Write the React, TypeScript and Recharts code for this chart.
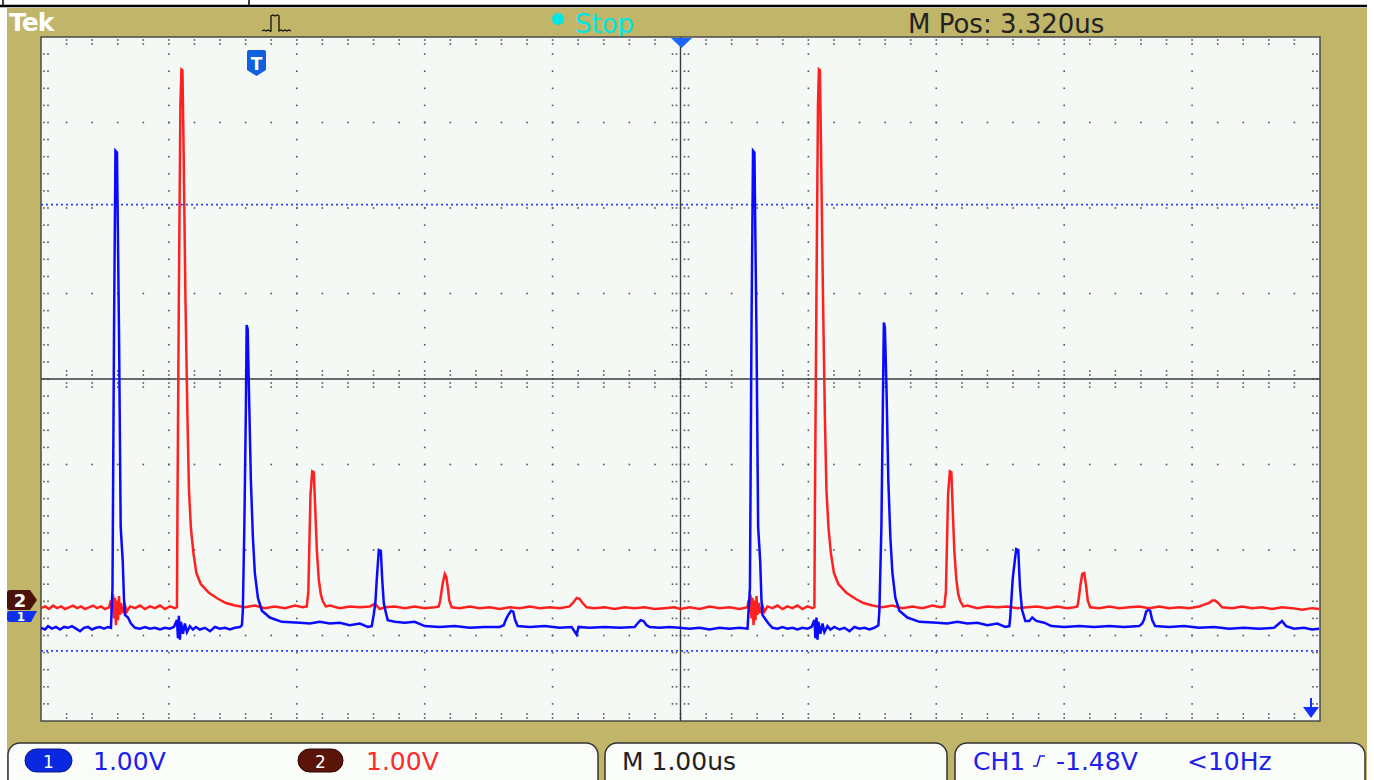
import React from "react";
import { LineChart, Line, XAxis, YAxis, ReferenceLine } from "recharts";

// time in us from the trigger point, volts from each channel's ground marker (1.00V/div)
const ch1Points: number[][] = [
  [-1.68, -0.14], [-1.648, -0.16], [-1.625, -0.12], [-1.594, -0.15], [-1.563, -0.13], [-1.531, -0.16],
  [-1.5, -0.13], [-1.469, -0.14], [-1.438, -0.12], [-1.406, -0.15], [-1.375, -0.18], [-1.344, -0.14],
  [-1.313, -0.13], [-1.281, -0.16], [-1.25, -0.14], [-1.219, -0.13], [-1.188, -0.15], [-1.156, -0.13],
  [-1.133, -0.14], [-1.121, 0.33], [-1.109, 3.35], [-1.098, 5.44], [-1.086, 5.42], [-1.07, 3.31],
  [-1.057, 1.04], [-1.041, 0.64], [-1.031, 0.19], [-1.023, 0.01], [-1.0, -0.02], [-0.977, -0.09],
  [-0.945, -0.14], [-0.906, -0.15], [-0.867, -0.13], [-0.828, -0.15], [-0.789, -0.14], [-0.75, -0.16],
  [-0.711, -0.14], [-0.672, -0.15], [-0.641, -0.13], [-0.617, -0.05], [-0.609, -0.26], [-0.602, 0],
  [-0.594, -0.28], [-0.586, -0.07], [-0.57, -0.21], [-0.555, -0.09], [-0.539, -0.19], [-0.516, -0.12],
  [-0.492, -0.16], [-0.469, -0.13], [-0.438, -0.16], [-0.398, -0.14], [-0.359, -0.18], [-0.32, -0.13],
  [-0.281, -0.15], [-0.242, -0.14], [-0.203, -0.16], [-0.164, -0.14], [-0.125, -0.13], [-0.109, -0.11],
  [-0.102, 0.06], [-0.09, 1.06], [-0.078, 2.44], [-0.072, 3.4], [-0.064, 3.35], [-0.055, 2.7],
  [-0.039, 1.58], [-0.023, 0.91], [-0.008, 0.5], [0.016, 0.21], [0.047, 0.06], [0.109, -0.02],
  [0.203, -0.07], [0.344, -0.08], [0.422, -0.09], [0.5, -0.07], [0.578, -0.09], [0.656, -0.08],
  [0.734, -0.11], [0.813, -0.09], [0.875, -0.13], [0.906, -0.12], [0.922, 0.02], [0.934, 0.15],
  [0.945, 0.42], [0.961, 0.77], [0.977, 0.76], [0.988, 0.42], [1.0, 0.15], [1.016, 0.04],
  [1.031, -0.05], [1.086, -0.07], [1.164, -0.08], [1.242, -0.07], [1.32, -0.12], [1.438, -0.13],
  [1.555, -0.12], [1.672, -0.14], [1.789, -0.13], [1.906, -0.13], [1.938, -0.11], [1.953, -0.05],
  [1.973, 0.01], [1.996, 0.06], [2.012, 0.05], [2.027, -0.05], [2.047, -0.12], [2.141, -0.13],
  [2.258, -0.12], [2.375, -0.14], [2.469, -0.13], [2.508, -0.22], [2.523, -0.13], [2.609, -0.14],
  [2.727, -0.13], [2.844, -0.14], [2.961, -0.13], [2.984, -0.09], [3.008, -0.05], [3.031, -0.06],
  [3.055, -0.11], [3.078, -0.13], [3.156, -0.14], [3.234, -0.13], [3.313, -0.14], [3.391, -0.15],
  [3.469, -0.14], [3.547, -0.16], [3.625, -0.14], [3.703, -0.15], [3.781, -0.14], [3.844, -0.15],
  [3.863, 0.33], [3.875, 3.35], [3.887, 5.44], [3.898, 5.42], [3.914, 3.31], [3.927, 1.04],
  [3.943, 0.64], [3.953, 0.19], [3.961, 0.01], [3.984, -0.04], [4.008, -0.09], [4.039, -0.14],
  [4.078, -0.15], [4.117, -0.13], [4.156, -0.15], [4.195, -0.14], [4.234, -0.16], [4.273, -0.14],
  [4.313, -0.15], [4.344, -0.13], [4.367, -0.05], [4.375, -0.26], [4.383, -0.02], [4.391, -0.28],
  [4.398, -0.07], [4.414, -0.21], [4.43, -0.09], [4.445, -0.19], [4.469, -0.12], [4.492, -0.16],
  [4.523, -0.13], [4.563, -0.16], [4.602, -0.14], [4.641, -0.18], [4.68, -0.13], [4.719, -0.15],
  [4.758, -0.14], [4.797, -0.16], [4.836, -0.14], [4.867, -0.11], [4.875, 0.06], [4.891, 1.06],
  [4.902, 2.44], [4.91, 3.43], [4.918, 3.37], [4.93, 2.7], [4.945, 1.58], [4.961, 0.91],
  [4.977, 0.5], [5.0, 0.21], [5.031, 0.06], [5.094, -0.02], [5.188, -0.07], [5.328, -0.08],
  [5.406, -0.09], [5.484, -0.07], [5.563, -0.09], [5.641, -0.08], [5.719, -0.11], [5.797, -0.09],
  [5.859, -0.13], [5.891, -0.12], [5.898, -0.02], [5.918, 0.44], [5.934, 0.65], [5.945, 0.78],
  [5.961, 0.77], [5.974, 0.34], [5.99, 0.07], [6.016, -0.06], [6.047, -0.06], [6.07, -0.02],
  [6.102, -0.06], [6.164, -0.08], [6.219, -0.12], [6.32, -0.13], [6.438, -0.12], [6.555, -0.13],
  [6.672, -0.12], [6.789, -0.13], [6.906, -0.12], [6.93, -0.09], [6.945, -0.04], [6.961, 0.05],
  [6.977, 0.07], [6.992, 0.06], [7.008, -0.05], [7.031, -0.12], [7.141, -0.13], [7.258, -0.12],
  [7.375, -0.14], [7.492, -0.13], [7.609, -0.15], [7.727, -0.14], [7.844, -0.15], [7.961, -0.14],
  [8.0, -0.09], [8.023, -0.06], [8.055, -0.12], [8.117, -0.15], [8.195, -0.14], [8.258, -0.16],
  [8.313, -0.15],
];

const ch2Points: number[][] = [
  [-1.68, -0.07], [-1.648, -0.05], [-1.617, -0.08], [-1.586, -0.04], [-1.555, -0.07], [-1.523, -0.05],
  [-1.492, -0.08], [-1.461, -0.06], [-1.43, -0.04], [-1.398, -0.07], [-1.367, -0.05], [-1.336, -0.08],
  [-1.305, -0.06], [-1.273, -0.04], [-1.242, -0.07], [-1.211, -0.05], [-1.18, -0.08], [-1.148, -0.06],
  [-1.133, 0.02], [-1.125, -0.12], [-1.117, 0.09], [-1.109, -0.19], [-1.102, 0.05], [-1.094, -0.27],
  [-1.086, 0.02], [-1.078, -0.21], [-1.07, 0.07], [-1.063, -0.15], [-1.055, -0.01], [-1.039, -0.13],
  [-1.023, -0.04], [-1.008, -0.11], [-0.984, -0.05], [-0.945, -0.07], [-0.906, -0.04], [-0.867, -0.08],
  [-0.828, -0.05], [-0.789, -0.07], [-0.75, -0.04], [-0.711, -0.08], [-0.672, -0.05], [-0.633, -0.07],
  [-0.617, -0.06], [-0.613, 1.13], [-0.602, 3.63], [-0.59, 5.81], [-0.582, 6.23], [-0.574, 6.22],
  [-0.566, 5.39], [-0.551, 3.58], [-0.535, 2.16], [-0.523, 1.31], [-0.508, 0.87], [-0.488, 0.57],
  [-0.465, 0.34], [-0.43, 0.21], [-0.367, 0.11], [-0.297, 0.04], [-0.234, -0.01], [-0.164, -0.04],
  [-0.086, -0.06], [-0.008, -0.04], [0.07, -0.07], [0.148, -0.05], [0.227, -0.07], [0.305, -0.04],
  [0.367, -0.06], [0.398, -0.05], [0.41, 0.12], [0.427, 1.26], [0.441, 1.53], [0.453, 1.52],
  [0.465, 1.06], [0.477, 0.6], [0.492, 0.26], [0.508, 0.09], [0.523, 0.01], [0.547, -0.05],
  [0.578, -0.04], [0.656, -0.07], [0.734, -0.05], [0.813, -0.06], [0.891, -0.05], [0.93, -0.02],
  [0.969, -0.08], [1.008, -0.06], [1.086, -0.05], [1.164, -0.07], [1.242, -0.05], [1.32, -0.07],
  [1.398, -0.06], [1.43, -0.05], [1.441, 0.02], [1.461, 0.22], [1.477, 0.33], [1.488, 0.3],
  [1.5, 0.18], [1.512, 0.02], [1.531, -0.06], [1.594, -0.07], [1.672, -0.05], [1.75, -0.07],
  [1.828, -0.06], [1.906, -0.08], [1.984, -0.06], [2.063, -0.07], [2.141, -0.05], [2.219, -0.07],
  [2.297, -0.06], [2.375, -0.07], [2.453, -0.05], [2.484, 0], [2.508, 0.05], [2.531, 0.04],
  [2.555, -0.01], [2.586, -0.06], [2.648, -0.07], [2.727, -0.06], [2.805, -0.08], [2.883, -0.06],
  [2.961, -0.07], [3.039, -0.06], [3.117, -0.08], [3.195, -0.07], [3.273, -0.06], [3.32, -0.08],
  [3.391, -0.06], [3.469, -0.08], [3.547, -0.05], [3.625, -0.07], [3.703, -0.06], [3.781, -0.08],
  [3.844, -0.06], [3.852, 0.02], [3.859, -0.12], [3.867, 0.09], [3.875, -0.19], [3.883, 0.05],
  [3.891, -0.27], [3.898, 0.02], [3.906, -0.21], [3.914, 0.07], [3.922, -0.15], [3.93, -0.01],
  [3.945, -0.13], [3.961, -0.04], [3.977, -0.11], [4.0, -0.05], [4.039, -0.07], [4.078, -0.04],
  [4.117, -0.08], [4.156, -0.05], [4.195, -0.07], [4.234, -0.04], [4.273, -0.08], [4.313, -0.05],
  [4.352, -0.07], [4.367, -0.06], [4.371, 1.13], [4.383, 3.63], [4.395, 5.81], [4.402, 6.23],
  [4.41, 6.22], [4.418, 5.39], [4.434, 3.58], [4.449, 2.16], [4.461, 1.31], [4.477, 0.87],
  [4.496, 0.57], [4.52, 0.34], [4.555, 0.21], [4.617, 0.11], [4.688, 0.04], [4.75, -0.01],
  [4.82, -0.04], [4.898, -0.06], [4.977, -0.04], [5.055, -0.07], [5.133, -0.05], [5.211, -0.07],
  [5.289, -0.04], [5.352, -0.06], [5.383, -0.05], [5.395, 0.12], [5.412, 1.26], [5.426, 1.53],
  [5.438, 1.52], [5.449, 1.06], [5.461, 0.6], [5.477, 0.26], [5.492, 0.09], [5.508, 0.01],
  [5.531, -0.05], [5.563, -0.04], [5.641, -0.07], [5.719, -0.05], [5.797, -0.06], [5.875, -0.05],
  [5.953, -0.07], [6.031, -0.06], [6.109, -0.05], [6.188, -0.07], [6.266, -0.05], [6.344, -0.07],
  [6.398, -0.06], [6.422, -0.05], [6.43, 0], [6.445, 0.18], [6.461, 0.33], [6.477, 0.34],
  [6.492, 0.18], [6.504, 0.02], [6.523, -0.06], [6.594, -0.07], [6.672, -0.05], [6.75, -0.07],
  [6.828, -0.06], [6.906, -0.05], [6.984, -0.07], [7.063, -0.05], [7.141, -0.07], [7.219, -0.06],
  [7.297, -0.07], [7.375, -0.05], [7.43, -0.02], [7.453, -0.01], [7.477, 0.02], [7.5, 0.02],
  [7.523, -0.01], [7.555, -0.06], [7.633, -0.07], [7.711, -0.05], [7.789, -0.07], [7.867, -0.06],
  [7.945, -0.08], [8.023, -0.06], [8.102, -0.07], [8.18, -0.09], [8.258, -0.07], [8.313, -0.08],
];

const cursorLevels = [4.81, -0.41]; // CH1 volts
const timeRange = [-1.68, 8.32];
const ch1Range = [-1.23, 6.77];
const ch2Range = [-1.39, 6.61];

const ch1Data = ch1Points.map(([t, v]) => ({ t, v }));
const ch2Data = ch2Points.map(([t, v]) => ({ t, v }));

const OLIVE = "#c1b569";
const FONT = "DejaVu Sans, Verdana, sans-serif";
const GX = 41;
const GY = 37;
const GW = 1279;
const GH = 684;

function Graticule() {
  const dots: React.ReactNode[] = [];
  const mx = GW / 50;
  const my = GH / 40;
  const cx = GX + GW / 2;
  const cy = GY + GH / 2;
  const add = (x: number, y: number) =>
    dots.push(<rect key={dots.length} x={x - 0.8} y={y - 0.8} width={1.6} height={1.6} />);
  for (let i = 1; i < 10; i++) {
    if (i === 5) continue;
    for (let k = 1; k < 40; k++) add(GX + (i * GW) / 10, GY + k * my);
  }
  for (let j = 1; j < 8; j++) {
    if (j === 4) continue;
    for (let k = 1; k < 50; k++) add(GX + k * mx, GY + (j * GH) / 8);
  }
  for (let k = 1; k < 50; k++) {
    const x = GX + k * mx;
    add(x, GY + 3);
    add(x, GY + 7);
    add(x, GY + GH - 3);
    add(x, GY + GH - 7);
    add(x, cy - 8);
    add(x, cy - 4);
    add(x, cy + 4);
    add(x, cy + 8);
  }
  for (let k = 1; k < 40; k++) {
    const y = GY + k * my;
    add(GX + 3, y);
    add(GX + 7, y);
    add(GX + GW - 3, y);
    add(GX + GW - 7, y);
    add(cx - 8, y);
    add(cx - 4, y);
    add(cx + 4, y);
    add(cx + 8, y);
  }
  return (
    <g>
      <rect x={GX} y={GY} width={GW} height={GH} fill="#f5f9f5" stroke="#4a4a4a" strokeWidth={1.5} />
      <g fill="#555">{dots}</g>
      <line x1={cx} y1={GY} x2={cx} y2={GY + GH} stroke="#3a3a3a" strokeWidth={1.4} />
      <line x1={GX} y1={cy} x2={GX + GW} y2={cy} stroke="#3a3a3a" strokeWidth={1.4} />
    </g>
  );
}

export default function App() {
  return (
    <div style={{ position: "fixed", left: 0, top: 0, width: 1374, height: 780, background: "#fff", overflow: "hidden" }}>
      <svg width={1374} height={780} style={{ position: "absolute", left: 0, top: 0 }} fontFamily={FONT}>
        <rect x={7} y={8} width={1360} height={780} fill={OLIVE} />
        <line x1={0} y1={6} x2={1367} y2={6} stroke="#000" strokeWidth={2.5} />
        <line x1={3} y1={0} x2={3} y2={6} stroke="#000" strokeWidth={1.5} />
        <line x1={249} y1={0} x2={249} y2={6} stroke="#000" strokeWidth={1.5} />

        <text x={9} y={31} fill="#fff" fontSize={25} fontWeight="bold" letterSpacing={-1}>Tek</text>
        <path
          d="M262,31 l2,-1 l2,1 l2,-1 l2,1 l1,0 l0,-15 l2,-1 l2,1 l2,-1 l2,1 l0,15 l2,-1 l2,1 l2,-1 l2,1 l2,-1 l2,1"
          fill="none"
          stroke="#111"
          strokeWidth={1.3}
        />
        <circle cx={558} cy={19} r={6} fill="#00e6e6" />
        <text x={575} y={33} fill="#00e6e6" fontSize={26}>Stop</text>
        <text x={908} y={33} fill="#222" fontSize={26}>M Pos: 3.320us</text>

        <Graticule />

        <polygon points="671,38 692,38 681.5,48" fill="#1a66ff" />
        <path d="M247,52 Q247,50 249,50 L264,50 Q266,50 266,52 L266,70 L256.5,76 L247,70 Z" fill="#1060e0" />
        <text x={256.5} y={70} fill="#fff" fontSize={17} fontWeight="bold" textAnchor="middle">T</text>
        <line x1={1311} y1={698} x2={1311} y2={709} stroke="#1030ff" strokeWidth={2} />
        <polygon points="1303,707 1319,707 1311,718" fill="#1030ff" />

        <path d="M10,611 L37,611 L31,622 L10,622 Q7,622 7,619 L7,614 Q7,611 10,611 Z" fill="#1030f0" />
        <text x={21} y={621} fill="#fff" fontSize={12} fontWeight="bold" textAnchor="middle">1</text>
        <path d="M10,590 L30,590 L37,600 L30,610 L10,610 Q7,610 7,607 L7,593 Q7,590 10,590 Z" fill="#4a1208" />
        <text x={20} y={607} fill="#fff" fontSize={18} fontWeight="bold" textAnchor="middle">2</text>

        <rect x={8} y={743} width={590} height={60} rx={12} fill="#fafcfa" stroke="#333" strokeWidth={1.5} />
        <rect x={605} y={743} width={342} height={60} rx={12} fill="#fafcfa" stroke="#333" strokeWidth={1.5} />
        <rect x={955} y={743} width={410} height={60} rx={12} fill="#fafcfa" stroke="#333" strokeWidth={1.5} />

        <rect x={25} y={749} width={47} height={23} rx={11.5} fill="#0a28e0" stroke="#0a1a80" strokeWidth={1} />
        <text x={48.5} y={768} fill="#fff" fontSize={17} textAnchor="middle">1</text>
        <text x={93} y={770} fill="#1c1cf0" fontSize={25}>1.00V</text>
        <rect x={298} y={749} width={45} height={23} rx={11.5} fill="#5a1408" stroke="#2a0804" strokeWidth={1} />
        <text x={320.5} y={768} fill="#fff" fontSize={17} textAnchor="middle">2</text>
        <text x={366} y={770} fill="#ff2a2a" fontSize={25}>1.00V</text>

        <text x={622} y={770} fill="#222" fontSize={25}>M 1.00us</text>

        <text x={973} y={770} fill="#2020e8" fontSize={25}>CH1</text>
        <path d="M1033,766 L1037,766 L1040,756 L1045,756" fill="none" stroke="#2020e8" strokeWidth={1.6} />
        <text x={1056} y={770} fill="#2020e8" fontSize={25}>-1.48V</text>
        <text x={1187} y={770} fill="#2020e8" fontSize={25}>&lt;10Hz</text>
      </svg>

      <div style={{ position: "absolute", left: GX, top: GY }}>
        <LineChart width={GW} height={GH} margin={{ top: 0, right: 0, bottom: 0, left: 0 }}>
          <XAxis type="number" dataKey="t" domain={timeRange} allowDataOverflow hide />
          <YAxis yAxisId="ch1" type="number" domain={ch1Range} allowDataOverflow hide />
          <YAxis yAxisId="ch2" type="number" domain={ch2Range} allowDataOverflow hide />
          {cursorLevels.map((v) => (
            <ReferenceLine key={v} yAxisId="ch1" y={v} stroke="#2a3cff" strokeWidth={1.8} strokeDasharray="2 3" />
          ))}
          <Line
            data={ch2Data}
            yAxisId="ch2"
            dataKey="v"
            type="linear"
            stroke="#ff2020"
            strokeWidth={2.5}
            dot={false}
            isAnimationActive={false}
          />
          <Line
            data={ch1Data}
            yAxisId="ch1"
            dataKey="v"
            type="linear"
            stroke="#0a0aff"
            strokeWidth={2.5}
            dot={false}
            isAnimationActive={false}
          />
        </LineChart>
      </div>
    </div>
  );
}
